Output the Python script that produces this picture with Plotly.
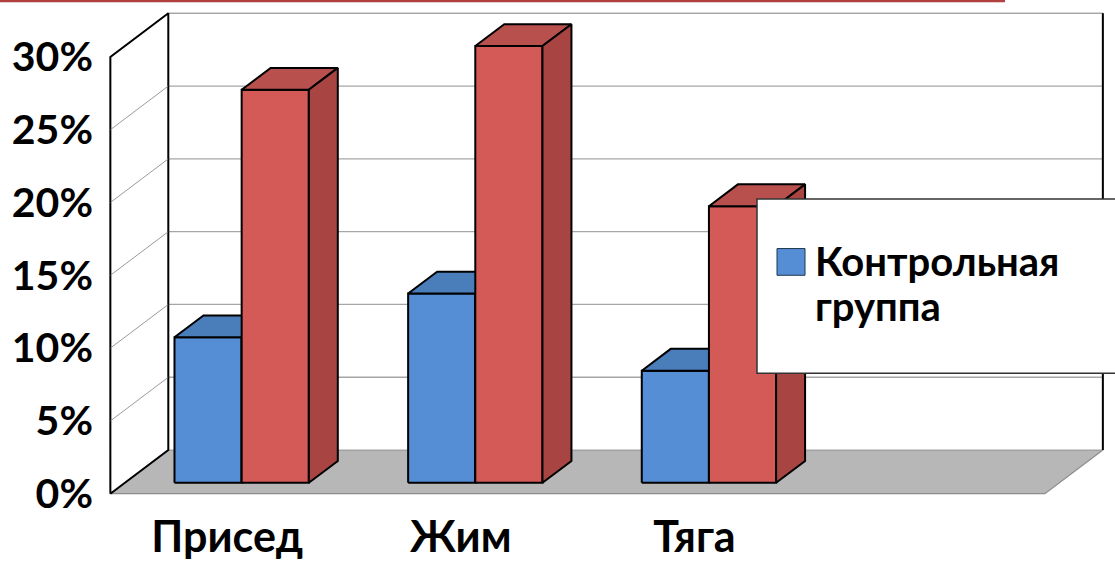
import plotly.graph_objects as go

# ---- data ----
categories = ["Присед", "Жим", "Тяга"]
control_group = [10, 13, 7.7]          # %
experimental_group = [27, 30, 19]      # %
series_names = ["Контрольная группа", "Экспериментальная группа"]
y_ticks = [0, 5, 10, 15, 20, 25, 30]
y_tick_text = [f"{v}%" for v in y_ticks]
n_slots = 4                            # category slots on the floor

# ---- oblique projection of the "3D" box ----
DX = 0.248      # horizontal shift of the back plane (category units)
DY = 3.0        # vertical shift of the back plane (percent units)
BAR_D0, BAR_D1 = 0.25, 0.75            # bar depth (fraction of box depth)
BAR_W = 0.2875
BAR_OFFSETS = [0.2125, 0.5]            # left edge of each series inside a slot

COLORS = [
    dict(front="#558ED5", top="#4A7EBB", side="#3F6FA8"),
    dict(front="#D45A58", top="#B8514E", side="#A84543"),
]
GRID = "#A6A6A6"
FLOOR = "#B7B7B7"
FONT = dict(family="Lato", size=41, color="black", weight="bold")
CAT_FONT = dict(FONT, size=43)

W, H = 1115, 561
ML, MR, MT, MB = 94, 0, 6, 55
X_RANGE = [-0.07, 4.3]
Y_RANGE = [-0.5, 33.5]


def shift(x, y, d):
    return x + DX * d, y + DY * d


def poly(xs, ys, fill, line_color="black", width=2):
    return go.Scatter(
        x=list(xs) + [xs[0]], y=list(ys) + [ys[0]],
        mode="lines", fill="toself", fillcolor=fill,
        line=dict(color=line_color, width=width),
        hoverinfo="skip", showlegend=False,
    )


def seg(x0, y0, x1, y1, color, width):
    return go.Scatter(x=[x0, x1], y=[y0, y1], mode="lines",
                      line=dict(color=color, width=width),
                      hoverinfo="skip", showlegend=False)


fig = go.Figure()
top = y_ticks[-1]

# floor
fig.add_trace(poly([0, n_slots, n_slots + DX, DX], [0, 0, DY, DY], FLOOR, "#8C8C8C", 1.2))
# back wall
fig.add_trace(poly([DX, n_slots + DX, n_slots + DX, DX], [DY, DY, top + DY, top + DY], "white", GRID, 1.2))
for v in y_ticks[1:]:
    fig.add_trace(seg(DX, v + DY, n_slots + DX, v + DY, GRID, 1.3))
# right edge of the back wall
fig.add_trace(seg(n_slots + DX, DY, n_slots + DX, top + DY, "black", 2))
# left wall
fig.add_trace(poly([0, DX, DX, 0], [0, DY, top + DY, top], "white", "black", 2))
for v in y_ticks[1:-1]:
    fig.add_trace(seg(0, v, DX, v + DY, "#808080", 0.8))

# bars
for i in range(len(categories)):
    for s, values in enumerate([control_group, experimental_group]):
        v = values[i]
        x0 = i + BAR_OFFSETS[s]
        x1 = x0 + BAR_W
        c = COLORS[s]
        fx0, fy0 = shift(x0, 0, BAR_D0)
        fx1, _ = shift(x1, 0, BAR_D0)
        bx0, by0 = shift(x0, 0, BAR_D1)
        bx1, _ = shift(x1, 0, BAR_D1)
        # front
        fig.add_trace(poly([fx0, fx1, fx1, fx0], [fy0, fy0, v + fy0, v + fy0], c["front"]))
        # top
        fig.add_trace(poly([fx0, fx1, bx1, bx0], [v + fy0, v + fy0, v + by0, v + by0], c["top"]))
        # right side
        fig.add_trace(poly([fx1, bx1, bx1, fx1], [fy0, by0, v + by0, v + fy0], c["side"]))


def px_x(p):
    return (p - ML) / (W - ML - MR)


def px_y(p):
    return (H - MB - p) / (H - MT - MB)


shapes = [
    # header rule
    dict(type="line", xref="paper", yref="paper", x0=px_x(0), x1=px_x(1005),
         y0=px_y(1), y1=px_y(1), line=dict(color="#B0413E", width=2.5), layer="above"),
    # legend box
    dict(type="rect", xref="paper", yref="paper", x0=px_x(757), x1=px_x(1130),
         y0=px_y(377), y1=px_y(201), fillcolor="white",
         line=dict(color="#333333", width=1.5), layer="above"),
    # legend key
    dict(type="rect", xref="paper", yref="paper", x0=px_x(777), x1=px_x(805),
         y0=px_y(278), y1=px_y(251), fillcolor=COLORS[0]["front"],
         line=dict(color="#1F3550", width=1), layer="above"),
]
legend_font = dict(FONT, size=40)
annotations = [
    dict(xref="paper", yref="paper", x=px_x(813), y=px_y(264), text=series_names[0].split()[0],
         xanchor="left", yanchor="middle", showarrow=False, font=legend_font),
    dict(xref="paper", yref="paper", x=px_x(813), y=px_y(309), text=series_names[0].split()[1],
         xanchor="left", yanchor="middle", showarrow=False, font=legend_font),
]

fig.update_layout(
    width=W, height=H,
    margin=dict(l=ML, r=MR, t=MT, b=MB, pad=0),
    paper_bgcolor="white", plot_bgcolor="white",
    showlegend=False,
    shapes=shapes, annotations=annotations,
    xaxis=dict(range=X_RANGE, showgrid=False, zeroline=False, showline=False,
               tickmode="array", tickvals=[i + 0.5 for i in range(len(categories))],
               ticktext=categories, ticks="", tickfont=CAT_FONT, ticklabelstandoff=7,
               fixedrange=True),
    yaxis=dict(range=Y_RANGE, showgrid=False, zeroline=False, showline=False,
               tickmode="array", tickvals=y_ticks, ticktext=y_tick_text,
               ticks="", tickfont=FONT, fixedrange=True),
)

fig.write_html("out.html")
